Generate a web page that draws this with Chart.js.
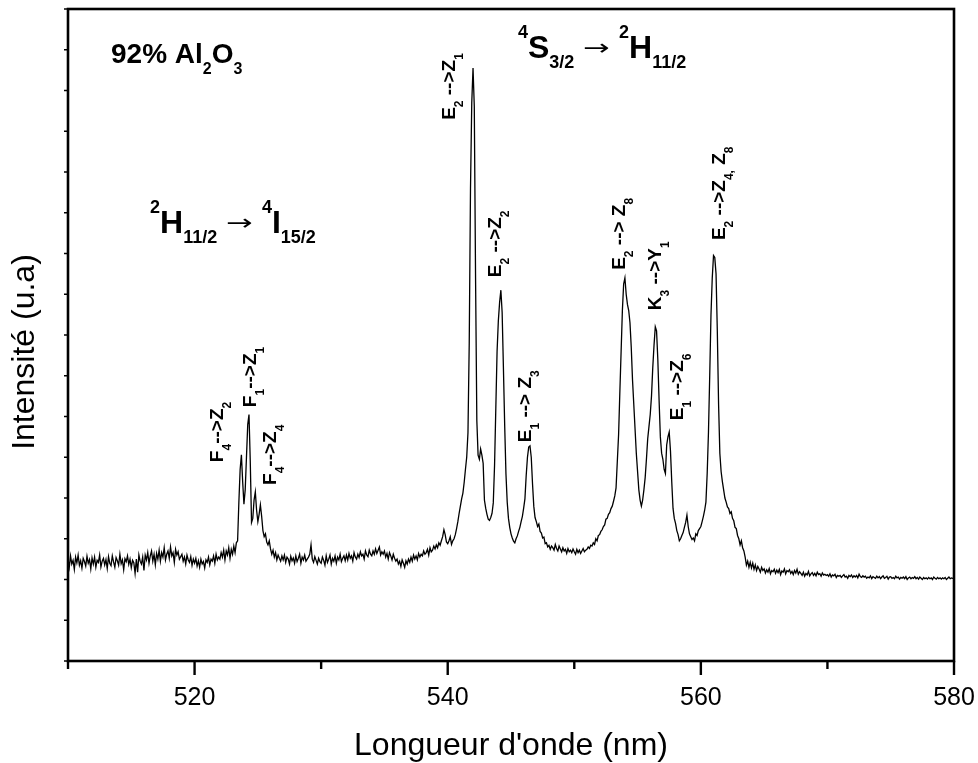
<!DOCTYPE html>
<html>
<head>
<meta charset="utf-8">
<script src="https://cdn.jsdelivr.net/npm/chart.js@4.4.1/dist/chart.umd.min.js"></script>
<style>
  html, body { margin: 0; padding: 0; background: #fff; }
</style>
</head>
<body>
<canvas id="spectrum" width="978" height="763"></canvas>
<script>
const STEP = 0.1;

// 510.0 - 523.3 nm, noisy baseline on the blue side
const blueBaseline = [
  2.50, 2.30, 2.58, 2.38, 2.47, 2.25, 2.55, 2.41, 2.60, 2.35,
  2.46, 2.28, 2.52, 2.44, 2.33, 2.57, 2.40, 2.49, 2.26, 2.53,
  2.38, 2.55, 2.30, 2.47, 2.42, 2.60, 2.31, 2.45, 2.52, 2.36,
  2.49, 2.27, 2.56, 2.40, 2.34, 2.58, 2.43, 2.30, 2.54, 2.46,
  2.35, 2.62, 2.39, 2.48, 2.24, 2.51, 2.44, 2.58, 2.37, 2.50,
  2.29, 2.47, 2.41, 2.15, 2.50, 2.18, 2.60, 2.45, 2.38, 2.55,
  2.22, 2.60, 2.48, 2.66, 2.40, 2.58, 2.70, 2.45, 2.62, 2.36,
  2.64, 2.50, 2.72, 2.45, 2.66, 2.55, 2.78, 2.48, 2.62, 2.70,
  2.52, 2.80, 2.58, 2.66, 2.42, 2.74, 2.60, 2.68, 2.50, 2.56,
  2.62, 2.45, 2.55, 2.38, 2.60, 2.48, 2.42, 2.56, 2.35, 2.50,
  2.40, 2.52, 2.33, 2.46, 2.30, 2.50, 2.38, 2.44, 2.28, 2.48,
  2.42, 2.55, 2.36, 2.50, 2.45, 2.58, 2.40, 2.62, 2.48, 2.55,
  2.50, 2.66, 2.55, 2.72, 2.48, 2.70, 2.60, 2.78, 2.52, 2.74,
  2.62, 2.82, 2.66, 2.90
];
// 523.4 - 526.0 nm, 2H11/2 -> 4I15/2 lines
const hLines = [
  2.95, 3.90, 4.70, 5.06, 4.40, 3.85,
  4.20, 5.00, 5.80, 6.05, 4.90, 3.40, 3.50, 3.95, 4.15, 3.70,
  3.42, 3.60, 3.83, 3.55, 3.20, 3.05, 3.12, 2.92, 2.85, 2.95,
  2.75
];
// 526.1 - 540.5 nm
const midBaseline = [
  2.62, 2.72, 2.55, 2.66, 2.48, 2.60, 2.52, 2.45, 2.58,
  2.48, 2.60, 2.42, 2.55, 2.50, 2.38, 2.57, 2.46, 2.53, 2.40,
  2.58, 2.44, 2.52, 2.62, 2.40, 2.55, 2.48, 2.60, 2.45, 2.50,
  2.55, 2.62, 2.85, 2.50, 2.42, 2.56, 2.47, 2.38, 2.52, 2.44,
  2.40, 2.55, 2.47, 2.35, 2.58, 2.42, 2.50, 2.60, 2.38, 2.52,
  2.45, 2.58, 2.40, 2.55, 2.48, 2.62, 2.44, 2.52, 2.58, 2.46,
  2.60, 2.48, 2.64, 2.52, 2.58, 2.45, 2.66, 2.55, 2.50, 2.62,
  2.54, 2.68, 2.58, 2.62, 2.50, 2.70, 2.60, 2.56, 2.72, 2.62,
  2.58, 2.70, 2.62, 2.75, 2.64, 2.72, 2.80, 2.60, 2.68, 2.62,
  2.70, 2.55, 2.64, 2.50, 2.66, 2.58, 2.48, 2.62, 2.52, 2.45,
  2.50, 2.38, 2.45, 2.32, 2.48, 2.40, 2.30, 2.46, 2.38, 2.50,
  2.42, 2.55, 2.45, 2.60, 2.50, 2.58, 2.48, 2.64, 2.55, 2.62,
  2.58, 2.70, 2.62, 2.66, 2.74, 2.60, 2.78, 2.68, 2.72, 2.82,
  2.75, 2.85, 2.78, 2.90, 2.84, 2.95, 3.05, 3.22, 3.10, 2.92,
  2.88, 2.95, 3.05, 2.86, 2.95, 3.00
];
// 540.6 - 563.5 nm, 4S3/2 -> 2H11/2 lines
const sLines = [
  3.10, 3.25, 3.42, 3.62,
  3.80, 3.98, 4.12, 4.38, 4.70, 5.00, 5.60, 7.80, 11.6, 13.7,
  14.55, 13.6, 9.40, 5.90, 5.05, 4.95, 5.20, 5.05, 4.85, 3.95,
  3.75, 3.60, 3.48, 3.45, 3.52, 3.62, 3.88, 4.80, 6.20, 7.60,
  8.35, 8.80, 9.10, 8.55, 7.20, 5.80, 4.60, 3.90, 3.50, 3.28,
  3.12, 3.02, 2.94, 2.90, 3.00, 3.07, 3.18, 3.28, 3.42, 3.55,
  3.75, 3.98, 4.55, 5.00, 5.25, 5.28, 5.00, 4.35, 3.80, 3.52,
  3.42, 3.30, 3.36, 3.18, 3.14, 3.02, 3.04, 2.88, 2.90, 2.80,
  2.84, 2.74, 2.82, 2.78, 2.72, 2.86, 2.76, 2.70, 2.82, 2.75,
  2.68, 2.78, 2.70, 2.74, 2.64, 2.76, 2.68, 2.72, 2.66, 2.75,
  2.68, 2.62, 2.74, 2.66, 2.72, 2.64, 2.70, 2.76, 2.68, 2.72,
  2.74, 2.80, 2.76, 2.84, 2.82, 2.90, 2.86, 3.00, 2.95, 3.08,
  3.10, 3.18, 3.22, 3.30, 3.34, 3.48, 3.50, 3.60, 3.64, 3.74,
  3.80, 3.92, 4.05, 4.25, 4.90, 5.55, 6.60, 7.60, 8.60, 9.25,
  9.40, 9.00, 8.75, 8.60, 8.30, 7.70, 6.90, 6.30, 5.70, 5.10,
  4.65, 4.20, 3.95, 3.80, 3.95, 4.20, 4.50, 4.95, 5.45, 5.75,
  6.05, 6.50, 7.20, 7.75, 8.20, 8.10, 7.40, 6.40, 5.50, 5.10,
  4.95, 4.70, 4.60, 5.30, 5.50, 5.62, 5.15, 4.40, 3.75, 3.50,
  3.38, 3.20, 3.10, 2.95, 3.00, 3.08, 3.15, 3.28, 3.40, 3.58,
  3.30, 3.12, 3.05, 2.98, 3.02, 2.95, 3.12, 3.08, 3.20, 3.25,
  3.30, 3.42, 3.55, 3.70, 3.90, 4.60, 5.60, 7.00, 8.50, 9.40,
  9.95, 9.90, 9.50, 8.10, 6.30, 5.10, 4.65, 4.40, 4.20, 4.00,
  3.90, 3.78, 3.74, 3.62, 3.66, 3.50, 3.44, 3.28, 3.25, 3.08,
  3.00, 2.85, 2.95, 2.78, 2.70, 2.55
];
// 563.6 - 580.0 nm, red tail
const redTail = [
  2.35, 2.45, 2.30, 2.42,
  2.28, 2.40, 2.25, 2.36, 2.22, 2.32, 2.26, 2.18, 2.30, 2.22,
  2.26, 2.16, 2.24, 2.18, 2.27, 2.14, 2.22, 2.19, 2.25, 2.15,
  2.23, 2.17, 2.25, 2.12, 2.21, 2.18, 2.26, 2.14, 2.22, 2.19,
  2.24, 2.15, 2.20, 2.12, 2.22, 2.16, 2.25, 2.13, 2.19, 2.15,
  2.10, 2.18, 2.08, 2.15, 2.11, 2.20, 2.09, 2.14, 2.17, 2.10,
  2.15, 2.09, 2.18, 2.12, 2.14, 2.08, 2.16, 2.11, 2.13, 2.10,
  2.12, 2.08, 2.14, 2.06, 2.11, 2.09, 2.13, 2.05, 2.10, 2.08,
  2.10, 2.05, 2.09, 2.12, 2.06, 2.08, 2.03, 2.10, 2.07, 2.11,
  2.05, 2.09, 2.06, 2.10, 2.04, 2.13, 2.07, 2.05, 2.09, 2.06,
  2.08, 2.03, 2.06, 2.04, 2.09, 2.02, 2.07, 2.05, 2.03, 2.08,
  2.04, 2.07, 2.02, 2.06, 2.09, 2.03, 2.05, 2.08, 2.01, 2.06,
  2.07, 2.03, 2.05, 2.02, 2.08, 2.04, 2.06, 2.01, 2.05, 2.03,
  2.06, 2.02, 2.07, 2.00, 2.04, 2.06, 2.02, 2.05, 2.03, 2.07,
  2.02, 2.05, 2.01, 2.06, 2.03, 2.00, 2.05, 2.02, 2.04, 2.01,
  2.05, 2.02, 2.04, 2.00, 2.06, 2.03, 2.01, 2.05, 2.02, 2.04,
  2.01, 2.04, 2.02, 2.05, 2.00, 2.03, 2.06, 2.02, 2.04, 2.03,
  2.03
];

// segment start wavelengths (nm)
const segments = [
  [510.0, blueBaseline],
  [523.4, hLines],
  [526.1, midBaseline],
  [540.6, sLines],
  [563.6, redTail],
];

const xMajorTicks = [520, 540, 560, 580];
const xMinorTicks = [510, 530, 550, 570];
const yTickMarks = [0, 1, 2, 3, 4, 5, 6, 7, 8, 9, 10, 11, 12, 13, 14, 15, 16];

// peak assignments: even entries normal, odd entries subscript
const peakNames = [
  ['F', '4', '-->Z', '2'],
  ['F', '1', '-->Z', '1'],
  ['F', '4', '-->Z', '4'],
  ['E', '2', ' -->Z', '1'],
  ['E', '2', ' -->Z', '2'],
  ['E', '1', ' --> Z', '3'],
  ['E', '2', ' --> Z', '8'],
  ['K', '3', ' -->Y', '1'],
  ['E', '1', ' -->Z', '6'],
  ['E', '2', ' -->Z', '4,', ' Z', '8'],
];

const FONT = "'Liberation Sans', Arial, sans-serif";
const ARROW_FONT = "'DejaVu Sans', sans-serif";

const points = [];
segments.forEach(([start, vals]) => {
  vals.forEach((v, i) => points.push({ x: +(start + i * STEP).toFixed(1), y: v }));
});

// where the labels sit, in data units (nm, intensity)
const peakAnchors = [
  [522.24, 4.88], [524.85, 6.23], [526.43, 4.32], [540.57, 13.28], [544.2, 9.42],
  [546.57, 5.37], [554.0, 9.6], [556.84, 8.61], [558.58, 5.91], [561.9, 10.33],
];

const arrow = { t: '\u2192', s: 22, w: 'normal', f: ARROW_FONT, sx: 1.45, gap: 9, dy: -3 };
const titles = [
  { at: [513.4, 14.67], runs: [
    { t: '92% Al', s: 28 }, { t: '2', s: 16, dy: 11 }, { t: 'O', s: 28 }, { t: '3', s: 16, dy: 11 }] },
  { at: [516.48, 10.5], runs: [
    { t: '2', s: 18, dy: -20 }, { t: 'H', s: 32 }, { t: '11/2', s: 18, dy: 10 },
    arrow, { t: '4', s: 18, dy: -20, gap: 9 },
    { t: 'I', s: 32 }, { t: '15/2', s: 18, dy: 10 }] },
  { at: [545.55, 14.8], runs: [
    { t: '4', s: 18, dy: -20 }, { t: 'S', s: 32 }, { t: '3/2', s: 18, dy: 10 },
    arrow, { t: '2', s: 18, dy: -20, gap: 9 },
    { t: 'H', s: 32 }, { t: '11/2', s: 18, dy: 10 }] },
];

function drawRuns(ctx, runs, x, y) {
  let cx = x;
  runs.forEach(r => {
    ctx.font = `${r.w || 'bold'} ${r.s}px ${r.f || FONT}`;
    cx += r.gap || 0;
    const sx = r.sx || 1;
    ctx.save();
    ctx.translate(cx, y + (r.dy || 0));
    ctx.scale(sx, 1);
    ctx.fillText(r.t, 0, 0);
    ctx.restore();
    cx += ctx.measureText(r.t).width * sx;
  });
}

function line(ctx, x1, y1, x2, y2) {
  ctx.beginPath();
  ctx.moveTo(x1, y1);
  ctx.lineTo(x2, y2);
  ctx.stroke();
}

const frame = {
  id: 'frame',
  afterDraw(chart) {
    const { ctx, chartArea: a, scales: { x, y } } = chart;
    ctx.save();
    ctx.strokeStyle = '#000';
    ctx.lineWidth = 2.6;
    ctx.strokeRect(a.left, a.top, a.right - a.left, a.bottom - a.top);

    ctx.lineWidth = 2.4;
    xMajorTicks.forEach(v => { const px = x.getPixelForValue(v); line(ctx, px, a.bottom, px, a.bottom + 14); });
    xMinorTicks.forEach(v => { const px = x.getPixelForValue(v); line(ctx, px, a.bottom, px, a.bottom + 8); });
    ctx.lineWidth = 1.5;
    yTickMarks.forEach(v => { const py = y.getPixelForValue(v); line(ctx, a.left - 4, py, a.left, py); });

    // axis titles
    ctx.fillStyle = '#000';
    ctx.font = `32px ${FONT}`;
    ctx.textAlign = 'center';
    ctx.textBaseline = 'alphabetic';
    ctx.fillText("Longueur d'onde (nm)", (a.left + a.right) / 2, a.bottom + 94);
    ctx.save();
    ctx.translate(a.left - 34, (a.top + a.bottom) / 2 + 17);
    ctx.rotate(-Math.PI / 2);
    ctx.fillText('Intensit\u00e9 (u.a)', 0, 0);
    ctx.restore();
    ctx.restore();
  }
};

const labels = {
  id: 'labels',
  afterDraw(chart) {
    const { ctx, scales: { x, y } } = chart;
    ctx.save();
    ctx.fillStyle = '#000';
    ctx.textAlign = 'left';
    ctx.textBaseline = 'alphabetic';
    titles.forEach(tl => {
      drawRuns(ctx, tl.runs, x.getPixelForValue(tl.at[0]), y.getPixelForValue(tl.at[1]));
    });
    peakNames.forEach((parts, i) => {
      const runs = parts.map((t, k) => (k % 2 ? { t, s: 12, dy: 8 } : { t, s: 19 }));
      ctx.save();
      ctx.translate(x.getPixelForValue(peakAnchors[i][0]), y.getPixelForValue(peakAnchors[i][1]));
      ctx.rotate(-Math.PI / 2);
      drawRuns(ctx, runs, 0, 0);
      ctx.restore();
    });
    ctx.restore();
  }
};

new Chart(document.getElementById('spectrum'), {
  type: 'line',
  data: {
    datasets: [{
      data: points,
      borderColor: '#000',
      borderWidth: 1.3,
      pointRadius: 0,
      tension: 0,
      fill: false,
    }],
  },
  options: {
    responsive: false,
    animation: false,
    events: [],
    layout: { padding: { left: 68, right: 24, top: 9, bottom: 0 } },
    plugins: { legend: { display: false }, tooltip: { enabled: false } },
    scales: {
      x: {
        type: 'linear', min: 510, max: 580,
        grid: { display: false }, border: { display: false },
        afterBuildTicks: s => { s.ticks = xMajorTicks.map(v => ({ value: v })); },
        afterFit: s => { s.height = 102; s.paddingLeft = 0; s.paddingRight = 0; },
        ticks: { color: '#000', font: { family: FONT, size: 25 }, padding: 14, maxRotation: 0, autoSkip: false },
      },
      y: { display: false, min: 0, max: 16 },
    },
  },
  plugins: [frame, labels],
});
</script>
</body>
</html>
